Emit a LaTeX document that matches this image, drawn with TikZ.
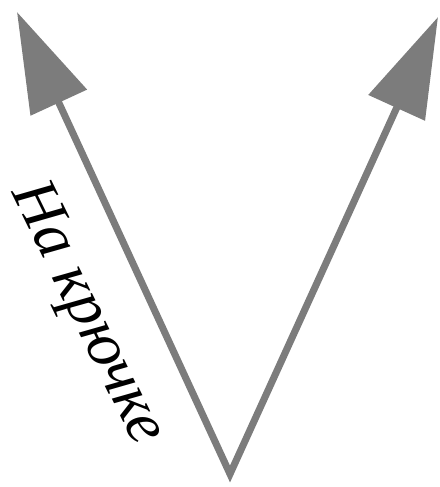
\documentclass[tikz,border=0pt]{standalone}
\usepackage{fontspec}
\setmainfont{Liberation Serif}[ItalicFont={Liberation Serif Italic}, BoldItalicFont={Liberation Serif Bold Italic}]
\usepackage{xcolor}
\usepackage{tikz}
\usetikzlibrary{positioning,arrows.meta}

\definecolor{arrowgray}{RGB}{124,124,124}
\tikzset{
  vline/.style={draw=arrowgray, line width=5pt, line join=miter},
  handtext/.style={font=\itshape\fontsize{45}{45}\selectfont, text=black, inner sep=0pt},
}

\begin{document}
\begin{tikzpicture}[x=0.025cm, y=-0.025cm]
  % canvas in pixel units of the reference (y grows downward)
  \useasboundingbox (0,0) rectangle (440,487);
  \def\tiplen{71pt}
  \def\tipwid{43pt}
  % apex of the V and the two arrow tips
  \coordinate (apex) at (230,474);
  \coordinate (tipL) at (17,12);
  \coordinate (tipR) at (438,17);
  \draw[vline, {Triangle[length=\tiplen,width=\tipwid]}-{Triangle[length=\tiplen,width=\tipwid]}]
    (tipL) -- (apex) -- (tipR);
  % label along the left arm
  \node[handtext, rotate=-64] (label) at (86,314) {На крючке};
\end{tikzpicture}
\end{document}
